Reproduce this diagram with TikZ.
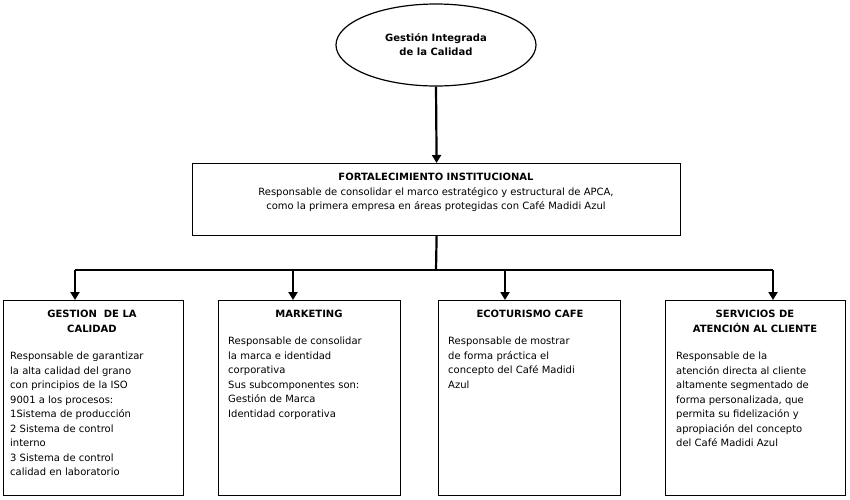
\documentclass[tikz,border=0pt]{standalone}
\usepackage{fontspec}
\setmainfont{DejaVu Sans}
\usetikzlibrary{shapes.geometric,arrows.meta}
\begin{document}
\begin{tikzpicture}[x=1pt,y=-1pt,
  box/.style={draw,line width=1.2pt},
  txt/.style={font=\fontsize{10}{14.5}\selectfont,align=left,anchor=north west,inner sep=0pt},
  arr/.style={line width=2.2pt,-{Triangle[length=8pt,width=9pt]}}]
\useasboundingbox (0,0) rectangle (850,499);
\node[ellipse,draw,line width=1.2pt,minimum width=200,minimum height=82,align=center,font=\bfseries\fontsize{10}{14}\selectfont] (top) at (436,45) {Gestión Integrada\\de la Calidad};
\node[box,minimum width=488,minimum height=72,anchor=north west,inner sep=0pt] (fi) at (192,163) {};
\node[align=center,font=\fontsize{10}{14.5}\selectfont,anchor=north] (fit) at (436,170) {\textbf{FORTALECIMIENTO INSTITUCIONAL}\\Responsable de consolidar el marco estratégico y estructural de APCA,\\como la primera empresa en áreas protegidas con Café Madidi Azul};
\draw[arr] (top.south) -- (fi.north);
\coordinate (j) at (436,270);
\coordinate (l) at (75,270);
\coordinate (r) at (773,270);
\draw[line width=2.2pt] (fi.south) -- (j);
\draw[line width=2.2pt] (l) -- (r);
\foreach \n/\x/\w/\c in {b1/3/180/75, b2/218/182/293, b3/438/182/505, b4/665/180/773}{
  \node[box,minimum width=\w,minimum height=195,anchor=north west,inner sep=0pt] (\n) at (\x,300) {};
  \coordinate (t\n) at (\c,270);
  \draw[arr] (t\n) -- (\c,300);
}
\node[align=center,font=\bfseries\fontsize{10}{14.5}\selectfont,anchor=north] (h1) at (92,307) {GESTION \ DE LA\\CALIDAD};
\node[txt] (p1) at (10,352) {Responsable de garantizar\\la alta calidad del grano\\con principios de la ISO\\9001 a los procesos:\\1Sistema de producción\\2 Sistema de control\\interno\\3 Sistema de control\\calidad en laboratorio};
\node[align=center,font=\bfseries\fontsize{10}{14.5}\selectfont,anchor=north] (h2) at (309,307) {MARKETING};
\node[txt] (p2) at (228,337) {Responsable de consolidar\\la marca e identidad\\corporativa\\Sus subcomponentes son:\\Gestión de Marca\\Identidad corporativa};
\node[align=center,font=\bfseries\fontsize{10}{14.5}\selectfont,anchor=north] (h3) at (530,307) {ECOTURISMO CAFE};
\node[txt] (p3) at (448,337) {Responsable de mostrar\\de forma práctica el\\concepto del Café Madidi\\Azul};
\node[align=center,font=\bfseries\fontsize{10}{14.5}\selectfont,anchor=north] (h4) at (755,307) {SERVICIOS DE\\ATENCIÓN AL CLIENTE};
\node[txt] (p4) at (676,352) {Responsable de la\\atención directa al cliente\\altamente segmentado de\\forma personalizada, que\\permita su fidelización y\\apropiación del concepto\\del Café Madidi Azul};
\end{tikzpicture}
\end{document}
